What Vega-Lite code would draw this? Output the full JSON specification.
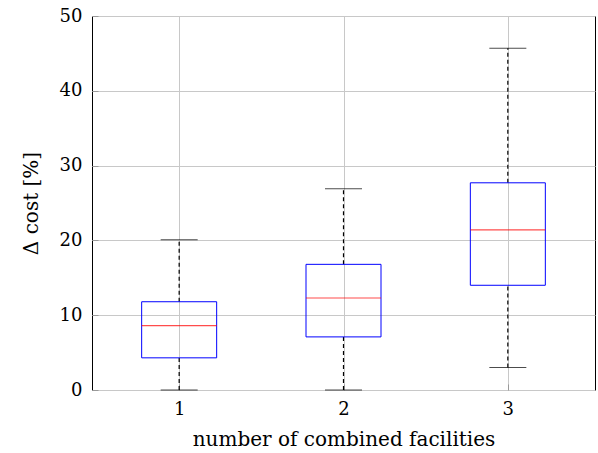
{
  "$schema": "https://vega.github.io/schema/vega-lite/v6.json",
  "autosize": "none",
  "width": 503,
  "height": 374,
  "padding": {"left": 92, "top": 16, "right": 3, "bottom": 63},
  "background": "white",
  "config": {
    "view": {"stroke": "black", "strokeWidth": 1},
    "font": "DejaVu Serif",
    "axis": {
      "labelFont": "DejaVu Serif",
      "titleFont": "DejaVu Serif",
      "labelFontSize": 18,
      "titleFontSize": 20,
      "titleFontWeight": "normal",
      "labelColor": "black",
      "titleColor": "black",
      "gridColor": "#c8c8c8",
      "gridWidth": 1,
      "domain": false,
      "tickColor": "#999999",
      "tickSize": -6,
      "labelPadding": 16
    }
  },
  "data": {
    "values": [
      {"n": 1, "lower": 0, "q1": 4.3, "median": 8.6, "q3": 11.8, "upper": 20.1},
      {"n": 2, "lower": 0, "q1": 7.1, "median": 12.3, "q3": 16.8, "upper": 26.9},
      {"n": 3, "lower": 3.0, "q1": 14.0, "median": 21.4, "q3": 27.7, "upper": 45.7}
    ]
  },
  "encoding": {
    "x": {
      "field": "n",
      "type": "quantitative",
      "scale": {"domain": [0.5, 3.5], "nice": false, "zero": false},
      "axis": {"values": [1, 2, 3], "title": "number of combined facilities", "titlePadding": 11, "format": "d"}
    }
  },
  "layer": [
    {
      "mark": {"type": "rule", "color": "black", "strokeDash": [4, 3], "strokeWidth": 1.2},
      "encoding": {
        "y": {"field": "lower", "type": "quantitative", "scale": {"domain": [0, 50], "nice": false},
          "axis": {"values": [0, 10, 20, 30, 40, 50], "title": "Δ cost [%]", "titlePadding": 18}},
        "y2": {"field": "q1"}
      }
    },
    {
      "mark": {"type": "rule", "color": "black", "strokeDash": [4, 3], "strokeWidth": 1.2},
      "encoding": {
        "y": {"field": "q3", "type": "quantitative"},
        "y2": {"field": "upper"}
      }
    },
    {
      "mark": {"type": "tick", "orient": "horizontal", "size": 37, "thickness": 1, "color": "black"},
      "encoding": {"y": {"field": "upper", "type": "quantitative"}}
    },
    {
      "mark": {"type": "tick", "orient": "horizontal", "size": 37, "thickness": 1, "color": "black"},
      "encoding": {"y": {"field": "lower", "type": "quantitative"}}
    },
    {
      "mark": {"type": "bar", "orient": "vertical", "size": 75, "fill": "transparent", "stroke": "#0000ff", "strokeWidth": 1},
      "encoding": {
        "y": {"field": "q1", "type": "quantitative"},
        "y2": {"field": "q3"}
      }
    },
    {
      "mark": {"type": "tick", "orient": "horizontal", "size": 75, "thickness": 1.2, "color": "#ff0000"},
      "encoding": {"y": {"field": "median", "type": "quantitative"}}
    }
  ]
}
